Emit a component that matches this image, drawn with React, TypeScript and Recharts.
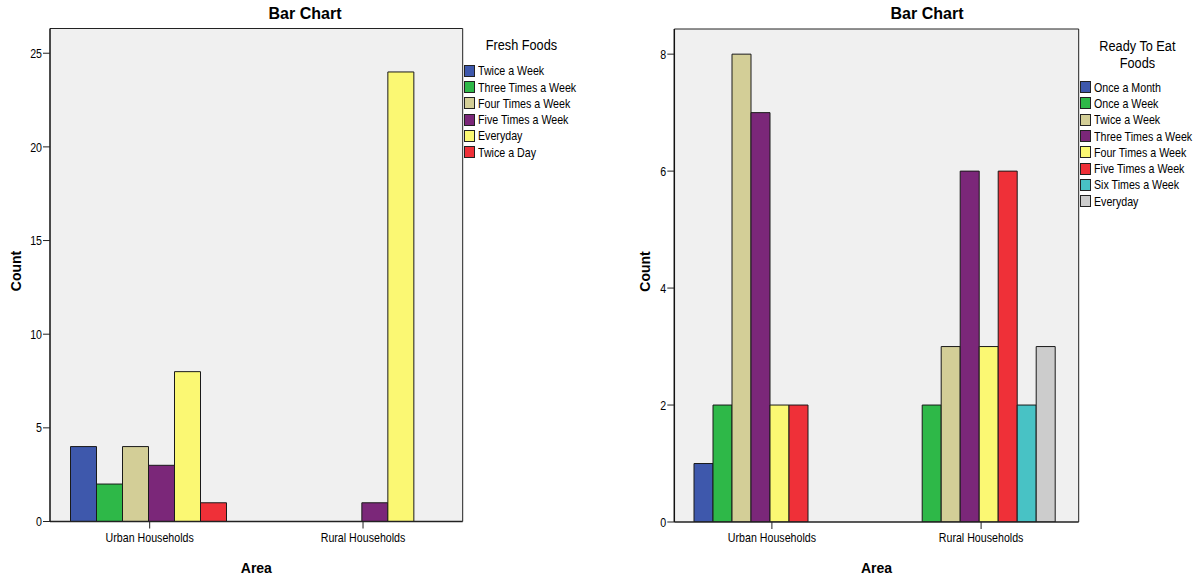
import { BarChart, Bar, XAxis, YAxis, CartesianGrid, Legend, Label } from 'recharts'

// no narrow face installed, so squeeze Liberation Sans horizontally
const SANS = "'Liberation Sans', Arial, sans-serif"
const SQUEEZE = 0.82

const areas = ['Urban Households', 'Rural Households']

const freshSeries = [
  'Twice a Week',
  'Three Times a Week',
  'Four Times a Week',
  'Five Times a Week',
  'Everyday',
  'Twice a Day',
]
const freshUrban = [4, 2, 4, 3, 8, 1]
const freshRural = [0, 0, 0, 1, 24, 0]
const freshTicks = [0, 5, 10, 15, 20, 25]

const readySeries = [
  'Once a Month',
  'Once a Week',
  'Twice a Week',
  'Three Times a Week',
  'Four Times a Week',
  'Five Times a Week',
  'Six Times a Week',
  'Everyday',
]
const readyUrban = [1, 2, 8, 7, 2, 2, 0, 0]
const readyRural = [0, 2, 3, 6, 3, 6, 2, 3]
const readyTicks = [0, 2, 4, 6, 8]

const freshColors = ['#3e58ac', '#2eb848', '#d3ce97', '#7b2779', '#fbf873', '#ef3038']
const readyColors = ['#3e58ac', '#2eb848', '#d3ce97', '#7b2779', '#fbf873', '#ef3038', '#48c2c5', '#cccccc']

function buildRows(series: string[], rows: number[][]) {
  return areas.map((area, i) => {
    const row: Record<string, string | number> = { area }
    series.forEach((s, j) => {
      row[s] = rows[i][j]
    })
    return row
  })
}

const freshData = buildRows(freshSeries, [freshUrban, freshRural])
const readyData = buildRows(readySeries, [readyUrban, readyRural])

function NarrowTick(props: any) {
  const { x, y, payload, textAnchor, vertical } = props
  return (
    <text
      transform={`translate(${x},${y}) scale(${SQUEEZE},1)`}
      textAnchor={textAnchor}
      dy={vertical ? '0.355em' : '0.71em'}
      style={{ fontFamily: SANS, fontSize: 13, fill: '#000' }}
    >
      {payload.value}
    </text>
  )
}

function LegendBox({ title, series, colors, itemTop }: { title: string[]; series: string[]; colors: string[]; itemTop: number }) {
  return (
    <div style={{ fontFamily: SANS, color: '#000', width: 120, textAlign: 'left' }}>
      <div style={{ fontSize: 15.5, lineHeight: '17px', height: itemTop }}>
        {title.map((t) => (
          <div key={t} style={{ width: 140, textAlign: 'center', transform: `scaleX(${SQUEEZE})`, transformOrigin: '0 0' }}>
            {t}
          </div>
        ))}
      </div>
      {series.map((s, i) => (
        <div key={s} style={{ display: 'flex', alignItems: 'center', height: 16.3, fontSize: 13, whiteSpace: 'nowrap' }}>
          <span
            style={{
              display: 'inline-block',
              flex: 'none',
              width: 9,
              height: 10,
              background: colors[i],
              border: '1px solid #222',
              marginRight: 3,
            }}
          />
          <span style={{ display: 'inline-block', transform: `scaleX(${SQUEEZE})`, transformOrigin: '0 50%' }}>{s}</span>
        </div>
      ))}
    </div>
  )
}

function CountLabel({ viewBox, x }: { viewBox?: any; x: number }) {
  const cy = viewBox.y + viewBox.height / 2 - 4
  return (
    <text
      x={x}
      y={cy}
      transform={`rotate(-90, ${x}, ${cy})`}
      textAnchor="middle"
      dominantBaseline="central"
      style={{ fontFamily: SANS, fontWeight: 'bold', fontSize: 14, fill: '#000' }}
    >
      Count
    </text>
  )
}

// frame lines: top edge and right edge of the plot area
const topEdge = ({ offset }: any) => [offset.top]
const rightEdge = ({ offset }: any) => [offset.left + offset.width]

type PanelProps = {
  left: number
  width: number
  data: Record<string, string | number>[]
  series: string[]
  colors: string[]
  ticks: number[]
  domainMax: number
  yWidth: number
  marginTop: number
  marginRight: number
  xHeight: number
  catGap: number
  titleX: number
  legendTitle: string[]
  legendLeft: number
  legendTop: number
  legendItemTop: number
  countX: number
}

function Panel(p: PanelProps) {
  return (
    <div style={{ position: 'absolute', left: p.left, top: 0, width: p.width, height: 577 }}>
      <div
        style={{
          position: 'absolute',
          left: p.titleX - 100,
          width: 200,
          top: 4,
          textAlign: 'center',
          fontFamily: SANS,
          fontWeight: 'bold',
          fontSize: 16,
          lineHeight: '20px',
        }}
      >
        Bar Chart
      </div>
      <BarChart
        width={p.width}
        height={577}
        data={p.data}
        margin={{ top: p.marginTop, right: p.marginRight, bottom: 0, left: 0 }}
        barCategoryGap={p.catGap}
        barGap={0}
      >
        <CartesianGrid
          fill="#f0f0f0"
          stroke="#222"
          strokeWidth={1}
          horizontalCoordinatesGenerator={topEdge}
          verticalCoordinatesGenerator={rightEdge}
        />
        <XAxis
          dataKey="area"
          height={p.xHeight}
          padding={{ left: -7, right: -7 }}
          axisLine={{ stroke: '#222', strokeWidth: 1.5 }}
          tickLine={{ stroke: '#222' }}
          tickSize={7}
          tickMargin={4}
          tick={<NarrowTick />}
        >
          <Label
            value="Area"
            position="insideBottom"
            offset={4.5}
            style={{ fontFamily: SANS, fontWeight: 'bold', fontSize: 14, fill: '#000' }}
          />
        </XAxis>
        <YAxis
          width={p.yWidth}
          domain={[0, p.domainMax]}
          ticks={p.ticks}
          allowDataOverflow
          axisLine={{ stroke: '#111', strokeWidth: 1.5 }}
          tickLine={{ stroke: '#222' }}
          tickSize={7}
          tickMargin={1}
          tick={<NarrowTick vertical />}
          label={(props: any) => <CountLabel {...props} x={p.countX} />}
        />
        <Legend
          layout="horizontal"
          verticalAlign="middle"
          align="center"
          wrapperStyle={{ position: 'absolute', left: p.legendLeft, top: p.legendTop, width: 'auto', height: 'auto' }}
          content={() => (
            <LegendBox title={p.legendTitle} series={p.series} colors={p.colors} itemTop={p.legendItemTop} />
          )}
        />
        {p.series.map((s, i) => (
          <Bar key={s} dataKey={s} fill={p.colors[i]} stroke="#1a1a1a" strokeWidth={1} isAnimationActive={false} />
        ))}
      </BarChart>
    </div>
  )
}

export default function App() {
  return (
    <div style={{ position: 'absolute', left: 0, top: 0, width: 1193, height: 577, background: '#fff' }}>
      <Panel
        left={0}
        width={600}
        data={freshData}
        series={freshSeries}
        colors={freshColors}
        ticks={freshTicks}
        domainMax={26.32}
        yWidth={50}
        marginTop={28.5}
        marginRight={137.3}
        xHeight={55.5}
        catGap={27.5}
        titleX={305}
        legendTitle={['Fresh Foods']}
        legendLeft={464}
        legendTop={36}
        legendItemTop={26.6}
        countX={16}
      />
      <Panel
        left={620}
        width={573}
        data={readyData}
        series={readySeries}
        colors={readyColors}
        ticks={readyTicks}
        domainMax={8.43}
        yWidth={54.3}
        marginTop={29}
        marginRight={114.3}
        xHeight={55}
        catGap={26.7}
        titleX={307}
        legendTitle={['Ready To Eat', 'Foods']}
        legendLeft={460}
        legendTop={37}
        legendItemTop={42}
        countX={25}
      />
    </div>
  )
}
